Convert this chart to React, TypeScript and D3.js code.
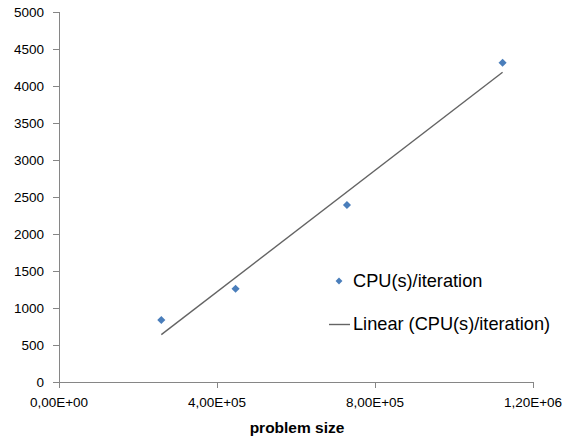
import React from "react";
import * as d3 from "d3";

const problemSize = [2.59e5, 4.47e5, 7.29e5, 1.123e6];
const cpuPerIteration = [838, 1261, 2392, 4315];
const xTicks = [0, 4e5, 8e5, 1.2e6];
const xTickLabels = ["0,00E+00", "4,00E+05", "8,00E+05", "1,20E+06"];
const yTicks = [0, 500, 1000, 1500, 2000, 2500, 3000, 3500, 4000, 4500, 5000];
const seriesName = "CPU(s)/iteration";
const trendName = "Linear (CPU(s)/iteration)";
const xTitle = "problem size";

const W = 565;
const H = 439;
const FONT = "'Liberation Sans', Arial, sans-serif";

export default function App() {
  const x = d3.scaleLinear().domain([0, 1.2e6]).range([59, 533]);
  const y = d3.scaleLinear().domain([0, 5000]).range([382, 12]);

  // least squares fit
  const n = problemSize.length;
  const mx = d3.mean(problemSize) as number;
  const my = d3.mean(cpuPerIteration) as number;
  let sxy = 0;
  let sxx = 0;
  for (let i = 0; i < n; i++) {
    sxy += (problemSize[i] - mx) * (cpuPerIteration[i] - my);
    sxx += (problemSize[i] - mx) ** 2;
  }
  const slope = sxy / sxx;
  const intercept = my - slope * mx;
  const x0 = d3.min(problemSize) as number;
  const x1 = d3.max(problemSize) as number;
  const trend: [number, number][] = [
    [x0, intercept + slope * x0],
    [x1, intercept + slope * x1],
  ];
  const line = d3
    .line<[number, number]>()
    .x((d) => x(d[0]))
    .y((d) => y(d[1]));

  const diamond = d3.symbol(d3.symbolDiamond2, 42)() as string;
  const legendDiamond = d3.symbol(d3.symbolDiamond2, 30)() as string;
  const axisColor = "#868686";
  const blue = "#4A7EBB";

  return (
    <svg
      width={W}
      height={H}
      style={{ position: "absolute", left: 0, top: 0, background: "#fff" }}
    >
      {/* y axis */}
      <line x1={59.5} x2={59.5} y1={y(5000)} y2={y(0)} stroke={axisColor} />
      {yTicks.map((t) => (
        <g key={t}>
          <line x1={53} x2={59.5} y1={Math.round(y(t)) + 0.5} y2={Math.round(y(t)) + 0.5} stroke={axisColor} />
          <text
            x={44}
            y={y(t)}
            dy="0.35em"
            textAnchor="end"
            fontFamily={FONT}
            fontSize={13.5}
            fill="#000"
          >
            {t}
          </text>
        </g>
      ))}
      {/* x axis */}
      <line x1={59} x2={533} y1={382.5} y2={382.5} stroke={axisColor} />
      {xTicks.map((t, i) => (
        <g key={t}>
          <line x1={Math.round(x(t)) + 0.5} x2={Math.round(x(t)) + 0.5} y1={382} y2={388} stroke={axisColor} />
          <text
            x={x(t)}
            y={407}
            textAnchor="middle"
            fontFamily={FONT}
            fontSize={13.5}
            fill="#000"
          >
            {xTickLabels[i]}
          </text>
        </g>
      ))}
      <text
        x={297}
        y={433}
        textAnchor="middle"
        fontFamily={FONT}
        fontSize={15.5}
        fontWeight="bold"
        fill="#000"
      >
        {xTitle}
      </text>

      {/* trend line */}
      <path d={line(trend) as string} stroke="#646464" strokeWidth={1.4} fill="none" />

      {/* points */}
      {problemSize.map((px, i) => (
        <path
          key={i}
          d={diamond}
          transform={`translate(${x(px)},${y(cpuPerIteration[i])})`}
          fill={blue}
        />
      ))}

      {/* legend */}
      <path d={legendDiamond} transform="translate(339,281)" fill={blue} />
      <text x={353} y={287} fontFamily={FONT} fontSize={18.2} fill="#000">
        {seriesName}
      </text>
      <line x1={329} x2={350} y1={324.5} y2={324.5} stroke="#646464" strokeWidth={1.4} />
      <text x={353} y={330} fontFamily={FONT} fontSize={18.2} fill="#000">
        {trendName}
      </text>
    </svg>
  );
}
